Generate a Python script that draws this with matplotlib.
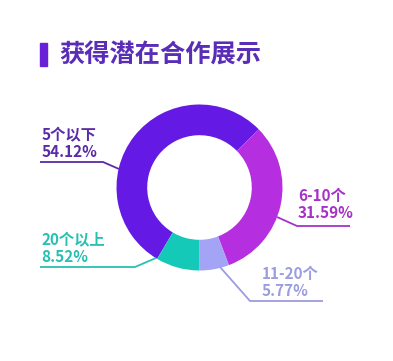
import matplotlib.pyplot as plt

plt.rcParams['font.family'] = ['Noto Sans CJK SC', 'DejaVu Sans']

# Daten
categories = ['5个以下', '6-10个', '11-20个', '20个以上']
shares = [54.12, 31.59, 5.77, 8.52]
wedge_colors = ['#6519e4', '#b52fe0', '#a3a4f6', '#15c9b9']
text_colors = ['#5b2aa8', '#a631c8', '#9c9ce0', '#28c0b0']

W, H = 393, 361
fig = plt.figure(figsize=(W / 100, H / 100), dpi=100)
fig.patch.set_facecolor('white')

# Ring
cx, cy, r = 199.5, 187.5, 83
ax_pie = fig.add_axes([(cx - r) / W, (H - cy - r) / H, 2 * r / W, 2 * r / H])
ax_pie.pie(shares, colors=wedge_colors, startangle=-120.7, counterclock=False,
           radius=1, wedgeprops=dict(width=0.37, edgecolor='none'))
ax_pie.set_xlim(-1, 1)
ax_pie.set_ylim(-1, 1)
ax_pie.set_aspect('equal')
ax_pie.axis('off')

# Overlay in Pixelkoordinaten
ax = fig.add_axes([0, 0, 1, 1])
ax.set_xlim(0, W)
ax.set_ylim(H, 0)
ax.axis('off')

# Titel
ax.add_patch(plt.Rectangle((40, 43), 7, 23, color='#6a1fd8'))
ax.text(59, 55, '获得潜在合作展示', fontsize=18.2, fontweight='bold',
        color='#5a2db8', va='center', ha='left')

# Beschriftungen: (text x, text y, leader line)
label_pos = [
    (42, 135, [(40, 162), (103, 162), (119, 169)]),
    (298, 196, [(277, 217), (297, 226), (350, 226)]),
    (262, 274, [(220, 267), (250, 301), (323, 301)]),
    (41, 240, [(40, 267), (135, 267), (156, 258)]),
]
for cat, val, tc, (tx, ty, line) in zip(categories, shares, text_colors, label_pos):
    xs = [p[0] for p in line]
    ys = [p[1] for p in line]
    ax.plot(xs, ys, color=tc, lw=1.3, solid_capstyle='butt')
    ax.text(tx, ty, cat, fontsize=11, fontweight='bold', color=tc,
            va='center', ha='left')
    ax.text(tx, ty + 17, f'{val:.2f}%', fontsize=11, fontweight='bold',
            color=tc, va='center', ha='left')

fig.savefig('out.png', dpi=100, facecolor='white')
